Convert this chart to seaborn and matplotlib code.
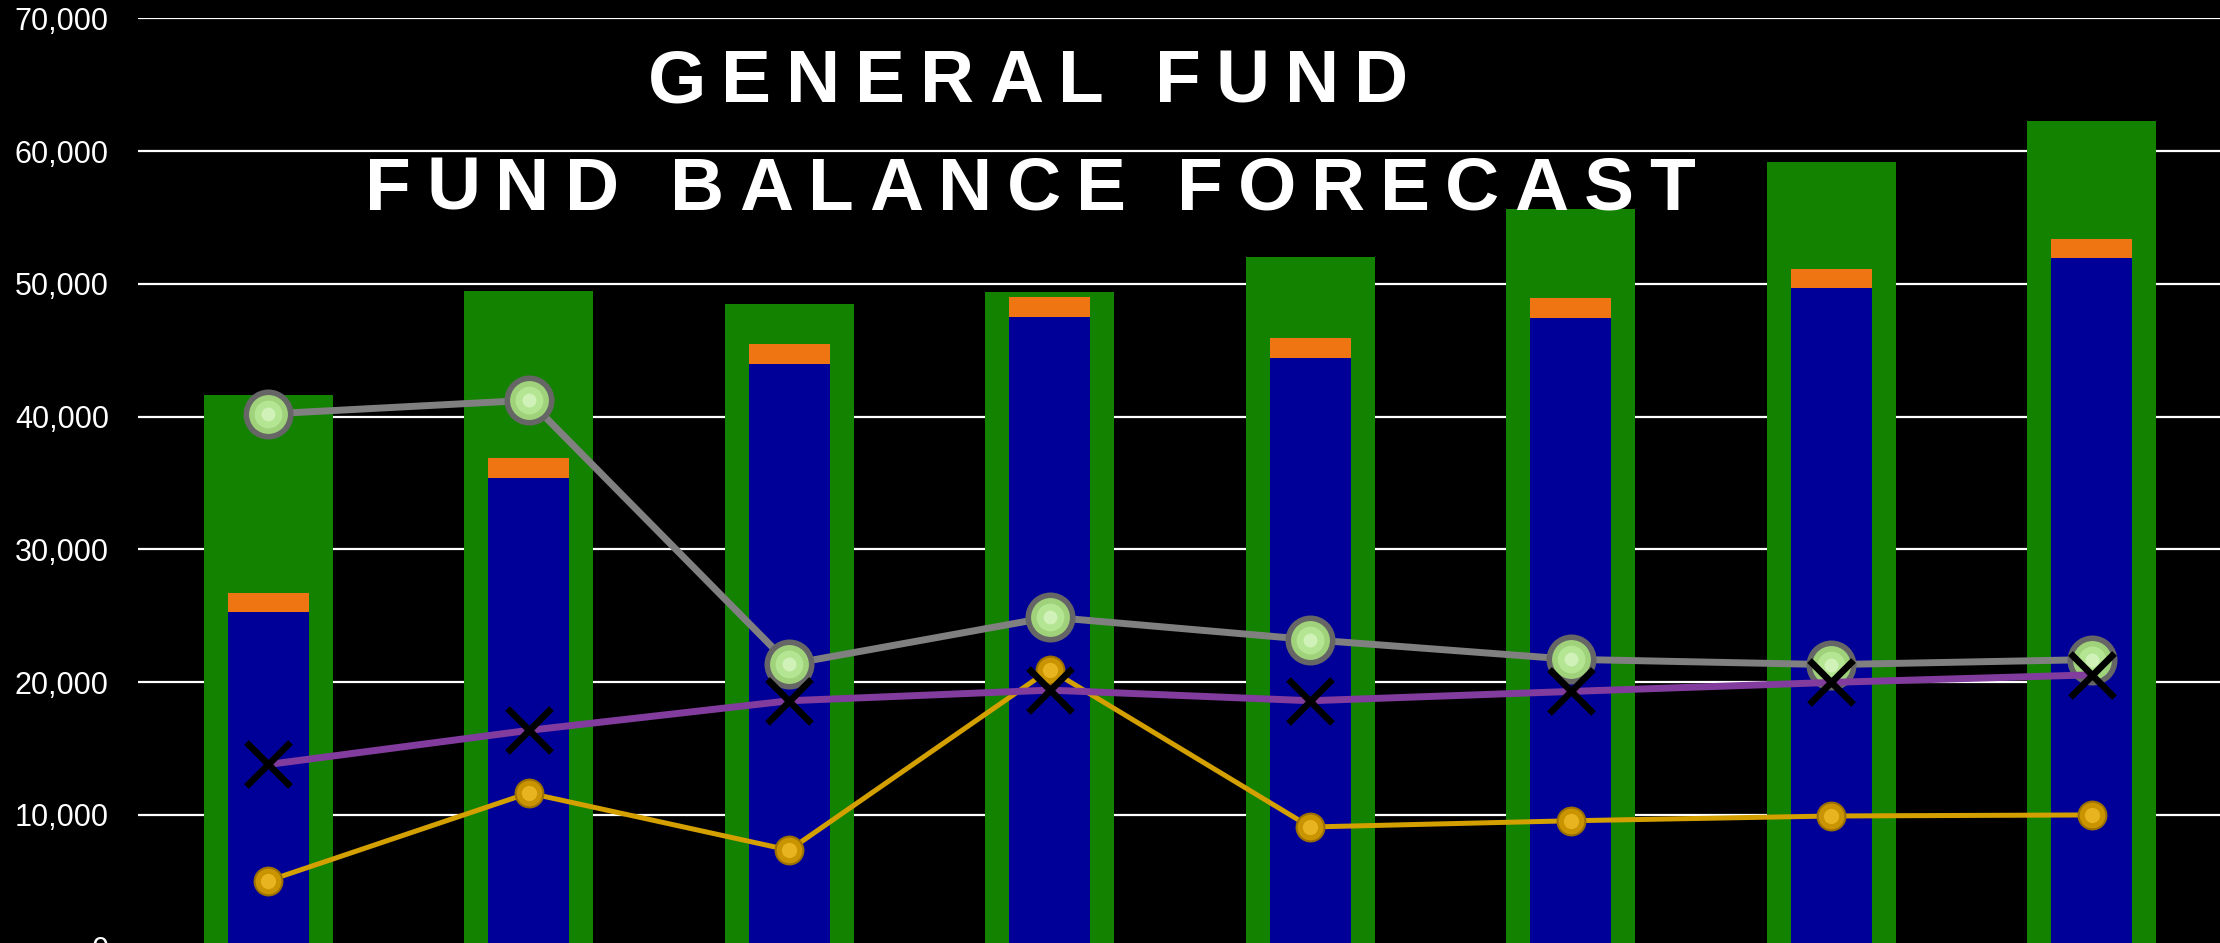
import numpy as np
import matplotlib
matplotlib.use("Agg")
import matplotlib.pyplot as plt
import seaborn as sns
from matplotlib.font_manager import FontProperties, findfont, get_font

# ---------------- data ----------------
categories = ["FY1", "FY2", "FY3", "FY4", "FY5", "FY6", "FY7", "FY8"]
total_balance = [41600, 49450, 48470, 49350, 52000, 55600, 59150, 62250]   # green bars
unassigned = [25250, 35400, 44000, 47520, 44450, 47450, 49700, 51950]      # blue bars
reserve = [1470, 1470, 1480, 1480, 1470, 1500, 1420, 1440]                 # orange segment
gray_series = [40200, 41230, 21350, 24900, 23200, 21720, 21320, 21700]
purple_series = [13800, 16370, 18600, 19400, 18600, 19300, 19980, 20550]
gold_series = [5040, 11650, 7350, 20950, 9090, 9560, 9920, 10000]
yticks = [0, 10000, 20000, 30000, 40000, 50000, 60000, 70000]
title_lines = ["GENERAL FUND", "FUND BALANCE FORECAST"]

# ---------------- figure ----------------
W, H, DPI = 2220, 943, 100
sns.set_style("dark")
plt.rcParams["font.family"] = ["Liberation Sans", "DejaVu Sans"]
fig = plt.figure(figsize=(W / DPI, H / DPI), dpi=DPI, facecolor="black")

ax_left_px, ax_right_px = 138, 2222
y_top_px, y_zero_px = 18.3, 947.7
ax = fig.add_axes([ax_left_px / W, (H - y_zero_px) / H,
                   (ax_right_px - ax_left_px) / W, (y_zero_px - y_top_px) / H])
ax.set_facecolor("black")

stack_top = [u + r for u, r in zip(unassigned, reserve)]
sns.barplot(x=categories, y=total_balance, color="#128200", saturation=1,
            width=0.495, errorbar=None, linewidth=0, ax=ax)
sns.barplot(x=categories, y=stack_top, color="#EE7511", saturation=1,
            width=0.311, errorbar=None, linewidth=0, ax=ax)
sns.barplot(x=categories, y=unassigned, color="#000099", saturation=1,
            width=0.311, errorbar=None, linewidth=0, ax=ax)

idx = np.arange(len(categories))

# gold line with gold spheres
sns.lineplot(x=idx, y=gold_series, color="#D4A000", linewidth=3.6, ax=ax,
             marker="o", markersize=20, markerfacecolor="#C99400",
             markeredgecolor="#9C7000", markeredgewidth=1.5, zorder=4)
ax.plot(idx, gold_series, linestyle="none", marker="o", markersize=11,
        markerfacecolor="#E8B420", markeredgewidth=0, zorder=4.1)

# gray line with light green spheres
sns.lineplot(x=idx, y=gray_series, color="#808080", linewidth=5, ax=ax,
             marker="o", markersize=32, markerfacecolor="#9FD27A",
             markeredgecolor="#666666", markeredgewidth=4, zorder=5)
ax.plot(idx, gray_series, linestyle="none", marker="o", markersize=20,
        markerfacecolor="#B4E592", markeredgewidth=0, zorder=5.1)
ax.plot(idx, gray_series, linestyle="none", marker="o", markersize=10,
        markerfacecolor="#D0F1B8", markeredgewidth=0, zorder=5.2)

# purple line with black X markers
sns.lineplot(x=idx, y=purple_series, color="#823C9E", linewidth=5, ax=ax, zorder=6)
ax.plot(idx, purple_series, linestyle="none", marker="x", markersize=31,
        markeredgecolor="black", markeredgewidth=4.8, zorder=6.5)

# axes styling
ax.set_xlim(-0.5, 7.5)
ax.set_ylim(0, 70000)
ax.set_yticks(yticks)
ax.set_yticklabels([f"{v:,}" for v in yticks])
ax.tick_params(axis="y", length=0, pad=21, labelsize=22, labelcolor="white")
ax.tick_params(axis="x", length=0, labelbottom=False)
ax.set_xlabel("")
ax.set_ylabel("")
for s in ax.spines.values():
    s.set_visible(False)
ax.yaxis.grid(True, color="white", linewidth=1.6)
ax.xaxis.grid(False)
ax.set_axisbelow(True)

# ---------------- title with letter spacing ----------------
def tracked_text(text, cx_px, baseline_px, size, tracking_px):
    prop = FontProperties(family="Liberation Sans", weight="bold", size=size)
    font = get_font(findfont(prop))
    font.set_size(size, DPI)
    advs = []
    for c in text:
        g = font.load_char(ord(c))
        advs.append(g.linearHoriAdvance / 65536.0)
    total = sum(advs) + tracking_px * (len(text) - 1)
    x = cx_px - total / 2
    for c, a in zip(text, advs):
        if c != " ":
            fig.text((x + a / 2) / W, (H - baseline_px) / H, c, ha="center",
                     va="baseline", color="white", fontproperties=prop)
        x += a + tracking_px

tracked_text(title_lines[0], 1028, 102.5, 54, 15)
tracked_text(title_lines[1], 1030, 210, 54, 15)

fig.savefig("out.png", dpi=DPI, facecolor="black")
